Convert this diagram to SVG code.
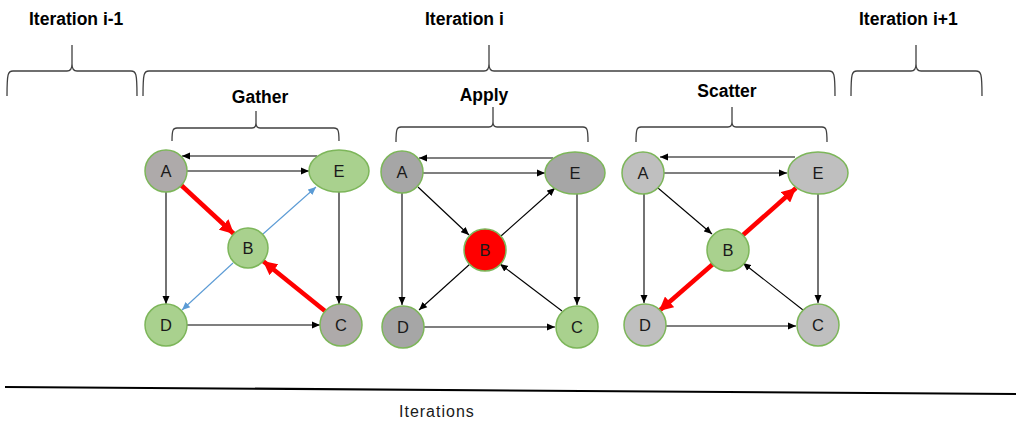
<svg xmlns="http://www.w3.org/2000/svg" width="1016" height="423" viewBox="0 0 1016 423">
<style>
.bg{fill:#ffffff}
.brace{fill:none;stroke:#404040;stroke-width:1.3}
.title{font-family:"Liberation Sans",Arial,sans-serif;font-weight:bold;font-size:17.5px;fill:#000}
.lbl{font-family:"Liberation Sans",Arial,sans-serif;font-size:16.5px;fill:#1a1a1a;text-anchor:middle;dominant-baseline:central}
.ax{font-family:"Liberation Sans",Arial,sans-serif;font-size:16px;letter-spacing:1px;fill:#1a1a1a}
.nd{stroke:#7db65a;stroke-width:1.5}
.g1{fill:#aeaaaa}
.g2{fill:#a6a6a6}
.g3{fill:#bfbfbf}
.gr{fill:#a9d18e}
.rd{fill:#ff0000}
.e{fill:none;stroke:#000;stroke-width:1.1;marker-end:url(#ak)}
.er{fill:none;stroke:#ff0000;stroke-width:4.5;marker-end:url(#ar)}
.eb{fill:none;stroke:#5b9bd5;stroke-width:1.1;marker-end:url(#ab)}
</style>
<defs>
<marker id="ak" markerUnits="userSpaceOnUse" markerWidth="9" markerHeight="8" refX="8" refY="4" orient="auto"><path d="M0,0.5 L8,4 L0,7.5 z" fill="#000"/></marker>
<marker id="ab" markerUnits="userSpaceOnUse" markerWidth="9" markerHeight="8" refX="8" refY="4" orient="auto"><path d="M0,0.5 L8,4 L0,7.5 z" fill="#5b9bd5"/></marker>
<marker id="ar" markerUnits="userSpaceOnUse" markerWidth="15" markerHeight="14" refX="14" refY="7" orient="auto"><path d="M0,0 L14,7 L0,14 z" fill="#ff0000"/></marker>
</defs>
<rect class="bg" x="0" y="0" width="1016" height="423"/>

<g id="headers">
<text class="title" x="29" y="25">Iteration i-1</text>
<text class="title" x="425" y="25">Iteration i</text>
<text class="title" x="859" y="25">Iteration i+1</text>
<path class="brace" d="M7,96 C7,73 8,71 13,71 H67 C71,71 72,68 72,64 V45 M72,64 C72,68 73,71 77,71 H131 C136,71 137,73 137,96"/>
<path class="brace" d="M143,96 C143,73 144,71 149,71 H484 C488,71 489,68 489,64 V45 M489,64 C489,68 490,71 494,71 H829 C834,71 835,73 835,96"/>
<path class="brace" d="M851,96 C851,73 852,71 857,71 H911 C915,71 916,68 916,64 V45 M916,64 C916,68 917,71 921,71 H976 C981,71 982,73 982,96"/>
<text class="title" x="260" y="103" text-anchor="middle">Gather</text>
<text class="title" x="484" y="101" text-anchor="middle">Apply</text>
<text class="title" x="727" y="97" text-anchor="middle">Scatter</text>
<path class="brace" d="M172,141 C172,130 173,128 177,128 H252 C255,128 256,126 256,123 V111 M256,123 C256,126 257,128 260,128 H334 C338,128 339,130 339,141"/>
<path class="brace" d="M396,142 C396,129 397,127 401,127 H489 C492,127 493,125 493,122 V107 M493,122 C493,125 494,127 497,127 H583 C587,127 588,129 588,142"/>
<path class="brace" d="M636,142 C636,129 637,127 641,127 H728 C731,127 732,125 732,122 V107 M732,122 C732,125 733,127 736,127 H822 C826,127 827,129 827,142"/>
</g>

<g id="connectors">
<!-- Gather -->
<path class="e" d="M317,156 H182"/>
<path class="e" d="M187,171 H309"/>
<path class="e" d="M166,192 V304"/>
<path class="e" d="M339,192 V304"/>
<path class="e" d="M187,325 H320"/>
<path class="er" d="M181,185 L234,234"/>
<path class="er" d="M325,311 L263,261"/>
<path class="eb" d="M263,234 L316,187"/>
<path class="eb" d="M233,263 L182,310"/>
<!-- Apply -->
<path class="e" d="M553,158 H419"/>
<path class="e" d="M423,173 H545"/>
<path class="e" d="M402,193 V305"/>
<path class="e" d="M577,194 V305"/>
<path class="e" d="M424,327 H555"/>
<path class="e" d="M418,187 L469,235"/>
<path class="e" d="M501,236 L555,188"/>
<path class="e" d="M470,264 L419,310"/>
<path class="e" d="M562,311 L500,264"/>
<!-- Scatter -->
<path class="e" d="M795,157 H660"/>
<path class="e" d="M664,173 H787"/>
<path class="e" d="M644,194 V303"/>
<path class="e" d="M818,194 V303"/>
<path class="e" d="M666,326 H796"/>
<path class="e" d="M658,188 L712,234"/>
<path class="er" d="M743,235 L796,188"/>
<path class="er" d="M713,264 L659,311"/>
<path class="e" d="M803,310 L743,263"/>
</g>

<g id="gather-A"><circle class="nd g1" cx="166" cy="171" r="21"/><text class="lbl" x="166" y="171">A</text></g>
<g id="gather-E"><ellipse class="nd gr" cx="339" cy="171" rx="30" ry="21"/><text class="lbl" x="339" y="171">E</text></g>
<g id="gather-B"><circle class="nd gr" cx="248" cy="248" r="20"/><text class="lbl" x="248" y="248">B</text></g>
<g id="gather-D"><circle class="nd gr" cx="166" cy="325" r="21"/><text class="lbl" x="166" y="325">D</text></g>
<g id="gather-C"><circle class="nd g1" cx="341" cy="325" r="21"/><text class="lbl" x="341" y="325">C</text></g>

<g id="apply-A"><circle class="nd g2" cx="402" cy="172" r="21"/><text class="lbl" x="402" y="172">A</text></g>
<g id="apply-E"><ellipse class="nd g2" cx="575" cy="173" rx="30" ry="21"/><text class="lbl" x="575" y="173">E</text></g>
<g id="apply-B"><circle class="nd rd" cx="485" cy="250" r="21"/><text class="lbl" x="485" y="250">B</text></g>
<g id="apply-D"><circle class="nd g2" cx="403" cy="327" r="21"/><text class="lbl" x="403" y="327">D</text></g>
<g id="apply-C"><circle class="nd gr" cx="577" cy="327" r="21"/><text class="lbl" x="577" y="327">C</text></g>

<g id="scatter-A"><circle class="nd g3" cx="643" cy="173" r="21"/><text class="lbl" x="643" y="173">A</text></g>
<g id="scatter-E"><ellipse class="nd g3" cx="818" cy="173" rx="30" ry="21"/><text class="lbl" x="818" y="173">E</text></g>
<g id="scatter-B"><circle class="nd gr" cx="728" cy="250" r="21"/><text class="lbl" x="728" y="250">B</text></g>
<g id="scatter-D"><circle class="nd g3" cx="645" cy="325" r="21"/><text class="lbl" x="645" y="325">D</text></g>
<g id="scatter-C"><circle class="nd g3" cx="818" cy="325" r="21"/><text class="lbl" x="818" y="325">C</text></g>

<g id="axis">
<path d="M5,387 L1016,394" stroke="#000" stroke-width="2.2" fill="none"/>
<text class="ax" x="399" y="417">Iterations</text>
</g>
</svg>
